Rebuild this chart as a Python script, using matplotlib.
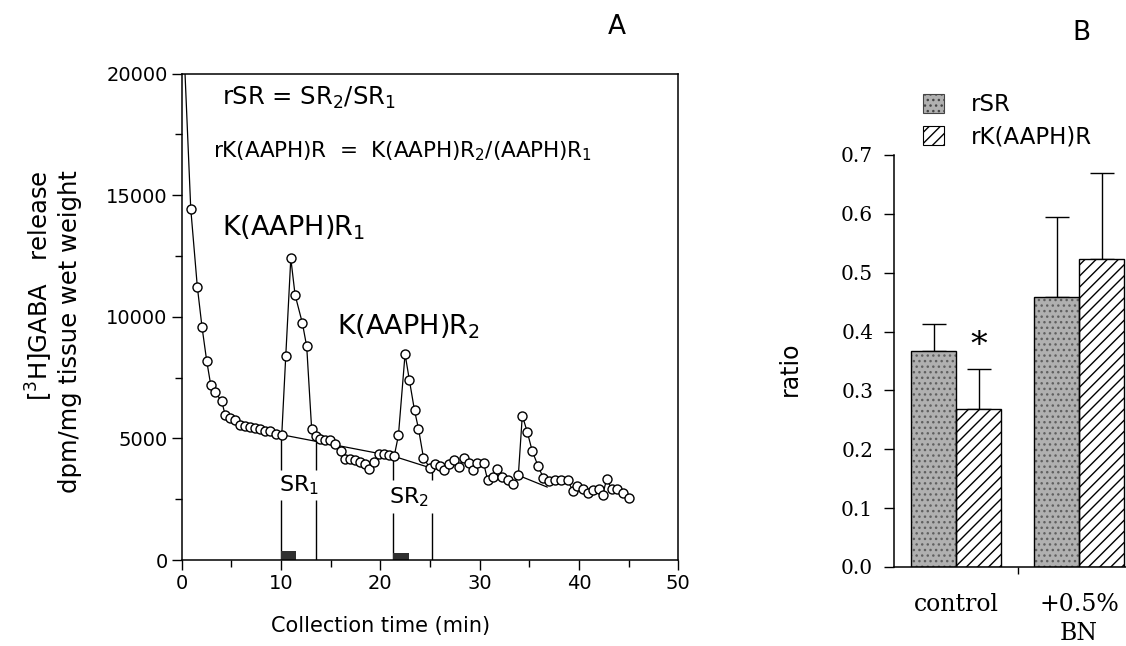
import numpy as np
import matplotlib
matplotlib.use("Agg")
import matplotlib.pyplot as plt
from matplotlib.patches import Patch

# ── Panel A: [3H]GABA release time course ────────────────────────────────────
time_min = [0.0, 0.93, 1.59, 2.06, 2.53, 2.94, 3.37, 4.05, 4.38, 4.88,
            5.39, 5.89, 6.39, 6.90, 7.40, 7.90, 8.40, 8.90, 9.50, 10.09,
            10.49, 11.00, 11.43, 12.17, 12.60, 13.10, 13.50, 13.95, 14.45, 14.95,
            15.46, 16.03, 16.47, 16.97, 17.47, 17.97, 18.48, 18.90, 19.39, 19.92,
            20.40, 20.90, 21.40, 21.83, 22.50, 22.94, 23.45, 23.85, 24.35, 24.96,
            25.50, 25.97, 26.40, 26.90, 27.40, 27.90, 28.40, 28.90, 29.30, 29.70,
            30.40, 30.80, 31.30, 31.80, 32.30, 32.90, 33.40, 33.90, 34.30, 34.80,
            35.30, 35.90, 36.40, 37.00, 37.60, 38.20, 38.85, 39.40, 39.85, 40.40,
            40.90, 41.40, 41.97, 42.40, 42.80, 43.30, 43.80, 44.40, 45.00]
release = [23400, 14440, 11240, 9590, 8200, 7200, 6900, 6530, 5980, 5850,
           5740, 5560, 5490, 5460, 5440, 5370, 5300, 5300, 5190, 5150,
           8370, 12400, 10900, 9730, 8780, 5370, 5100, 4990, 4920, 4920,
           4780, 4480, 4170, 4140, 4100, 4030, 3930, 3760, 4030, 4370,
           4370, 4330, 4260, 5120, 8470, 7380, 6150, 5400, 4210, 3800,
           3960, 3850, 3690, 3930, 4100, 3820, 4200, 4000, 3690, 4000,
           4000, 3300, 3420, 3760, 3420, 3280, 3110, 3480, 5940, 5260,
           4480, 3850, 3390, 3250, 3300, 3280, 3280, 2840, 3050, 2900,
           2770, 2870, 2940, 2690, 3350, 2900, 2900, 2770, 2570]

# interpolated basal release under the K(AAPH) peaks
base1_t = [10.09, 21.40, 24.96]
base1_v = [5150, 4260, 3800]
base2_t = [33.9, 36.8]
base2_v = [3480, 3000]

# SR windows: vertical markers (top at baseline, gap for label)
sr_t = [9.99, 13.5, 21.3, 25.2]
sr_top = [5160, 4890, 4270, 3820]
sr_gap_hi = [3700, 3700, 3290, 3290]
sr_gap_lo = [2460, 2460, 1930, 1930]

# K(AAPH) application bars
stim_start = [10.0, 21.3]
stim_end = [11.5, 22.9]
stim_height = [370, 300]

# ── Panel B: ratios ──────────────────────────────────────────────────────────
groups = ["control", "+0.5%\nBN"]
rsr_mean = [0.367, 0.459]
rsr_err = [0.046, 0.136]
rk_mean = [0.268, 0.523]
rk_err = [0.068, 0.147]

fig = plt.figure(figsize=(11.26, 6.46), dpi=100)

# ── Panel A ──────────────────────────────────────────────────────────────────
ax = fig.add_axes([0.1612, 0.1331, 0.4412, 0.7531])
ax.plot(base1_t, base1_v, color="black", lw=0.9, zorder=1.5)
ax.plot(base2_t, base2_v, color="black", lw=0.9, zorder=1.5)
ax.plot(time_min, release, color="black", lw=0.9, marker="o", ms=6.5,
        mfc="white", mec="black", mew=1.0, zorder=2)
for t, top, hi, lo in zip(sr_t, sr_top, sr_gap_hi, sr_gap_lo):
    ax.vlines(t, hi, top, color="black", lw=1.0, zorder=1.4)
    ax.vlines(t, 0, lo, color="black", lw=1.0, zorder=1.4)
for s, e, h in zip(stim_start, stim_end, stim_height):
    ax.bar(s, h, width=e - s, align="edge", color="#303030", lw=0, zorder=1.6)

ax.set_xlim(0, 50)
ax.set_ylim(0, 20000)
ax.set_xticks(range(0, 51, 10))
ax.set_xticks(range(5, 50, 10), minor=True)
ax.set_yticks(range(0, 20001, 5000))
ax.set_yticks(range(2500, 20000, 5000), minor=True)
ax.tick_params(which="major", direction="out", length=7, width=1, labelsize=14, pad=3)
ax.tick_params(which="minor", direction="out", length=5, width=1)
for sp in ax.spines.values():
    sp.set_linewidth(1.1)
ax.set_xlabel("Collection time (min)", fontsize=15)
ax.xaxis.set_label_coords(0.4, -0.115)

ax.text(4.05, 18980, "rSR = SR$_2$/SR$_1$", fontsize=17.5, ha="left", va="center")
ax.text(3.17, 16800, "rK(AAPH)R  =  K(AAPH)R$_2$/(AAPH)R$_1$", fontsize=15.5,
        ha="left", va="center")
ax.text(4.05, 13640, "K(AAPH)R$_1$", fontsize=19.5, ha="left", va="center")
ax.text(15.6, 9610, "K(AAPH)R$_2$", fontsize=19.5, ha="left", va="center")
ax.text(11.83, 3080, "SR$_1$", fontsize=16, ha="center", va="center")
ax.text(22.9, 2590, "SR$_2$", fontsize=16, ha="center", va="center")

fig.text(53 / 1126, 1 - 332 / 646,
         "[$^3$H]GABA   release\ndpm/mg tissue wet weight",
         rotation=90, ha="center", va="center", multialignment="right",
         fontsize=17.5, linespacing=1.2)
fig.text(617 / 1126, 1 - 27 / 646, "A", fontsize=19, ha="center", va="center")

# ── Panel B ──────────────────────────────────────────────────────────────────
axb = fig.add_axes([0.794, 0.1223, 0.206, 0.6378])
x = np.arange(1, len(groups) + 1)
w = 0.366
axb.bar(x - w / 2, rsr_mean, width=w, color="#b0b0b0", edgecolor="#606060",
        hatch="...", lw=0, zorder=2)
axb.bar(x - w / 2, rsr_mean, width=w, fill=False, edgecolor="black", lw=1.0, zorder=3)
axb.bar(x + w / 2, rk_mean, width=w, color="white", edgecolor="black",
        hatch="///", lw=1.0, zorder=2)
axb.errorbar(x - w / 2, rsr_mean, yerr=[np.zeros(len(x)), rsr_err], fmt="none",
             ecolor="black", elinewidth=1.0, capsize=8.6, capthick=1.0, zorder=1)
axb.errorbar(x + w / 2, rk_mean, yerr=[np.zeros(len(x)), rk_err], fmt="none",
             ecolor="black", elinewidth=1.0, capsize=8.6, capthick=1.0, zorder=1)
axb.text(x[0] + w / 2, 0.375, "*", fontsize=24, family="DejaVu Serif",
         ha="center", va="center")

axb.set_xlim(0.496, 2.382)
axb.set_ylim(0, 0.7)
yt = [0.0, 0.1, 0.2, 0.3, 0.4, 0.5, 0.6, 0.7]
axb.set_yticks(yt)
axb.set_yticklabels([f"{v:.1f}" for v in yt], family="DejaVu Serif", fontsize=14.5)
axb.set_xticks(x)
axb.set_xticklabels(groups, family="DejaVu Serif", fontsize=17, linespacing=1.3)
axb.set_xticks([1.5], minor=True)
axb.tick_params(axis="x", which="major", length=0, pad=19)
axb.tick_params(axis="x", which="minor", direction="out", length=5, width=1)
axb.tick_params(axis="y", direction="out", length=7, width=1, pad=8)
axb.spines["top"].set_visible(False)
axb.spines["right"].set_visible(False)
axb.spines["left"].set_linewidth(1.1)
axb.spines["bottom"].set_linewidth(1.1)

fig.text(790 / 1126, 1 - 369 / 646, "ratio", rotation=90, ha="center",
         va="center", fontsize=17)
fig.text(1081 / 1126, 1 - 33 / 646, "B", fontsize=19, ha="center", va="center")

handles = [Patch(facecolor="#b0b0b0", edgecolor="#444444", hatch="...", lw=0.8),
           Patch(facecolor="white", edgecolor="black", hatch="///", lw=0.8)]
fig.legend(handles, ["rSR", "rK(AAPH)R"], loc="upper left",
           bbox_to_anchor=(923 / 1126, 1 - 93 / 646), frameon=False, fontsize=16.5,
           handlelength=0.9, handleheight=0.9, handletextpad=1.2,
           labelspacing=0.4, borderpad=0, borderaxespad=0)

fig.savefig("out.png", dpi=100)
